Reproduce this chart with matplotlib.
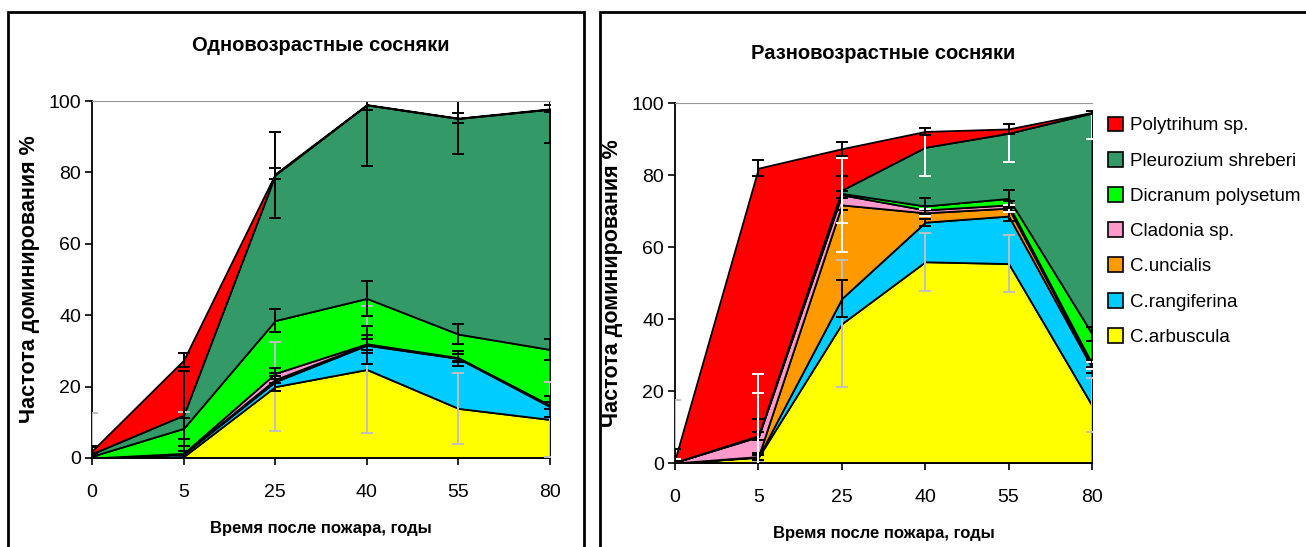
"""
Stacked area charts: dominance frequency of ground-cover species after fire
in even-aged and uneven-aged pine forests.
"""
import numpy as np
import matplotlib
matplotlib.use("Agg")
import matplotlib.pyplot as plt
from matplotlib.patches import Rectangle, Patch

plt.rcParams['font.family'] = ['Liberation Sans', 'DejaVu Sans']

# Categories (years after fire)
YEARS = ['0', '5', '25', '40', '55', '80']

SPECIES = ['C.arbuscula', 'C.rangiferina', 'C.uncialis', 'Cladonia sp.',
           'Dicranum polysetum', 'Pleurozium shreberi', 'Polytrihum sp.']
COLORS = ['#FFFF00', '#00CCFF', '#FF9900', '#FF99CC', '#00FF00', '#339966', '#FF0000']

# Even-aged pine stands (values per species, stacked bottom to top)
even_arbuscula = [0.0, 0.4, 20.0, 24.8, 13.9, 10.8]
even_rangiferina = [0.0, 0.7, 1.4, 6.8, 14.0, 3.6]
even_uncialis = [0.0, 0.0, 0.6, 0.2, 0.1, 0.2]
even_cladonia = [0.0, 0.2, 1.7, 0.2, 0.1, 0.2]
even_dicranum = [0.5, 7.0, 14.8, 12.7, 6.6, 15.6]
even_pleurozium = [0.7, 3.7, 40.8, 54.2, 60.4, 67.3]
even_polytrihum = [0.8, 15.4, 0.3, 0.1, 0.1, 0.1]

even_err_arbuscula = [12.5, 12.4, 12.5, 17.7, 10.0, 10.6]
even_err_rangiferina = [0.5, 1.0, 2.5, 5.3, 2.2, 3.0]
even_err_uncialis = [0.5, 1.0, 1.0, 1.5, 1.0, 1.0]
even_err_cladonia = [1.0, 2.0, 1.5, 2.5, 1.0, 1.0]
even_err_dicranum = [1.0, 3.0, 3.2, 4.8, 2.8, 3.0]
even_err_pleurozium = [2.0, 12.5, 12.0, 17.0, 10.0, 9.6]
even_err_polytrihum = [1.5, 2.0, 1.5, 1.5, 1.5, 1.0]

# Uneven-aged pine stands
uneven_arbuscula = [0.0, 1.6, 38.7, 55.9, 55.4, 16.0]
uneven_rangiferina = [0.0, 0.1, 7.0, 11.0, 13.2, 10.5]
uneven_uncialis = [0.0, 0.1, 26.0, 2.6, 2.2, 0.6]
uneven_cladonia = [0.2, 5.5, 2.8, 0.8, 0.9, 0.5]
uneven_dicranum = [0.0, 0.2, 0.4, 1.1, 1.8, 8.3]
uneven_pleurozium = [0.0, 0.1, 0.9, 16.3, 18.1, 61.3]
uneven_polytrihum = [0.8, 74.3, 11.5, 4.4, 1.2, 0.2]

uneven_err_arbuscula = [17.5, 1.0, 17.6, 8.0, 7.9, 7.5]
uneven_err_rangiferina = [0.5, 1.0, 5.1, 1.0, 1.5, 1.5]
uneven_err_uncialis = [1.0, 17.6, 13.0, 1.0, 1.0, 1.0]
uneven_err_cladonia = [1.0, 5.0, 1.0, 1.0, 1.0, 1.0]
uneven_err_dicranum = [1.0, 1.0, 4.7, 2.3, 2.4, 2.0]
uneven_err_pleurozium = [1.0, 17.2, 9.0, 8.0, 8.0, 7.2]
uneven_err_polytrihum = [3.0, 2.3, 2.0, 1.0, 1.3, 0.5]

# Error bar colours per species (as in the original Excel chart)
EVEN_ERR_COLORS = ['#C0C0C0', 'k', 'k', 'k', 'k', 'k', 'k']
UNEVEN_ERR_COLORS = ['#C0C0C0', 'k', 'white', 'k', 'k', 'white', 'k']


def draw_panel(ax, series, errors, err_colors, title, title_pad, xlabel_pad):
    x = np.arange(len(YEARS))
    ax.stackplot(x, *series, colors=COLORS, edgecolor='k', linewidth=1.3)
    tops = np.cumsum(np.array(series), axis=0)
    for top, err, ec in zip(tops, errors, err_colors):
        ax.errorbar(x, top, yerr=err, fmt='none', ecolor=ec,
                    elinewidth=1.4, capsize=4, capthick=1.4, zorder=3)
    ax.set_xlim(0, len(YEARS) - 1)
    ax.set_ylim(0, 100)
    ax.set_xticks(x)
    ax.set_xticklabels(YEARS)
    ax.set_yticks(range(0, 101, 20))
    ax.tick_params(axis='both', direction='out', length=5, width=1.2, labelsize=14)
    ax.tick_params(axis='x', pad=14)
    ax.tick_params(axis='y', pad=3)
    ax.spines['right'].set_visible(False)
    ax.spines['top'].set_color('#999999')
    ax.spines['top'].set_zorder(4)
    ax.spines['left'].set_linewidth(1.3)
    ax.spines['bottom'].set_linewidth(1.3)
    ax.set_xlabel('Время после пожара, годы', fontsize=12,
                  fontweight='bold', labelpad=xlabel_pad)
    ax.set_ylabel('Частота доминирования %', fontsize=15.5,
                  fontweight='bold', labelpad=6)
    ax.set_title(title, fontsize=14.5, fontweight='bold', pad=title_pad)


W, H = 1306, 547
fig = plt.figure(figsize=(W / 100, H / 100), dpi=100)

# Panel frames
fig.add_artist(Rectangle((8 / W, -0.1), (584 - 8) / W, 1.1 - 12 / H,
                         transform=fig.transFigure, fill=False, lw=2, ec='k'))
fig.add_artist(Rectangle((600 / W, -0.1), (1320 - 600) / W, 1.1 - 12 / H,
                         transform=fig.transFigure, fill=False, lw=2, ec='k'))

ax1 = fig.add_axes([92 / W, 1 - 458 / H, (550 - 92) / W, (458 - 101) / H])
draw_panel(ax1,
           [even_arbuscula, even_rangiferina, even_uncialis, even_cladonia,
            even_dicranum, even_pleurozium, even_polytrihum],
           [even_err_arbuscula, even_err_rangiferina, even_err_uncialis,
            even_err_cladonia, even_err_dicranum, even_err_pleurozium,
            even_err_polytrihum],
           EVEN_ERR_COLORS, 'Одновозрастные сосняки', 36, 14)

ax2 = fig.add_axes([675 / W, 1 - 463 / H, (1092 - 675) / W, (463 - 103) / H])
draw_panel(ax2,
           [uneven_arbuscula, uneven_rangiferina, uneven_uncialis, uneven_cladonia,
            uneven_dicranum, uneven_pleurozium, uneven_polytrihum],
           [uneven_err_arbuscula, uneven_err_rangiferina, uneven_err_uncialis,
            uneven_err_cladonia, uneven_err_dicranum, uneven_err_pleurozium,
            uneven_err_polytrihum],
           UNEVEN_ERR_COLORS, 'Разновозрастные сосняки', 32, 14)

# Legend, top entry first
handles = [Patch(facecolor=c, edgecolor='k', lw=1.2, label=s)
           for s, c in zip(SPECIES, COLORS)][::-1]
fig.legend(handles=handles, loc='upper left', bbox_to_anchor=(1100 / W, 1 - 109 / H),
           frameon=False, fontsize=13.5, handlelength=0.85, handleheight=0.85,
           handletextpad=0.35, labelspacing=0.92, borderaxespad=0)

fig.savefig('out.png', dpi=100)
